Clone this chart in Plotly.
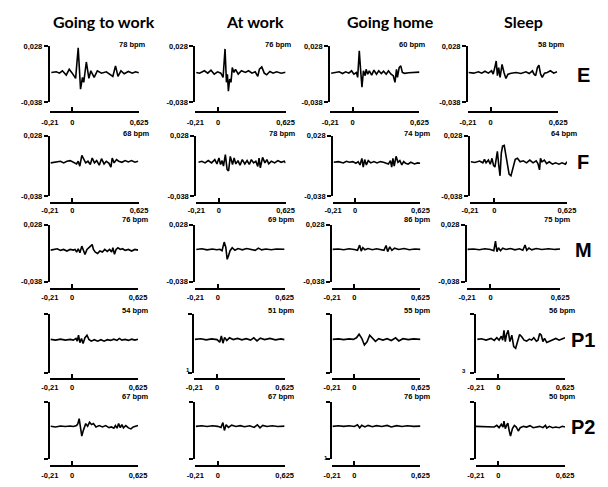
import plotly.graph_objects as go

W, H = 608, 487

CONDITIONS = ["Going to work", "At work", "Going home", "Sleep"]
SUBJECTS = ["E", "F", "M", "P1", "P2"]

# heart rate per subject, one value per condition
BPM_E = [78, 76, 60, 58]
BPM_F = [68, 78, 74, 64]
BPM_M = [76, 69, 86, 75]
BPM_P1 = [54, 51, 55, 56]
BPM_P2 = [67, 67, 76, 50]

X_TICKS = [-0.21, 0, 0.625]
X_TICK_TEXT = ["-0,21", "0", "0,625"]
Y_TICKS = [-0.038, 0.028]
Y_TICK_TEXT = ["-0,038", "0,028"]

# averaged waveforms: time in ms, amplitude in thousandths of the axis unit
E_GTW_MS = [-195, -149, -119, -92, -56, -28, 0, 32, 56, 78, 96, 108, 132, 156, 174, 205, 235, 274, 319, 356, 380, 405, 428, 456, 486, 525, 562, 592, 622]
E_GTW_AMP = [-3.0, -2.2, -3.8, -1.0, -6.1, 0.8, -3.8, -10.0, 26.0, -22.7, -8.8, -14.6, 9.4, -10.0, -1.0, -8.8, -1.0, -3.8, -2.2, -5.0, -7.6, 4.8, -7.6, -1.0, -4.5, -1.8, -3.8, -2.2, -3.3]
E_AW_MS = [-201, -171, -126, -95, -65, -35, -4, 26, 47, 65, 78, 87, 96, 108, 120, 132, 147, 162, 187, 217, 253, 283, 314, 344, 368, 383, 405, 428, 450, 480, 510, 541, 586, 625]
E_AW_AMP = [-3.0, -3.8, -1.0, -3.8, -0.3, -5.0, -2.2, -3.8, -8.8, 24.8, -14.6, -5.0, -25.0, -10.8, -14.6, 2.8, -3.0, 0.8, -5.0, -1.0, -3.0, -1.0, -3.8, -2.2, -7.6, 0.8, 3.6, -3.8, -5.7, -1.8, -3.8, -2.2, -3.8, -2.7]
E_GH_MS = [-201, -156, -126, -95, -65, -35, -10, 11, 35, 47, 62, 74, 87, 101, 117, 126, 141, 156, 178, 199, 223, 244, 268, 289, 314, 335, 359, 380, 396, 410, 419, 435, 450, 465, 486, 525, 571, 625]
E_GH_AMP = [-3.8, -3.0, -2.2, -4.2, -2.2, -3.8, -1.0, -5.0, -3.0, -8.8, 22.5, 0.8, -20.4, -1.0, -6.8, 0.8, -5.0, -1.0, -6.1, -0.3, -5.0, -1.0, -4.2, -1.5, -5.0, -1.0, -5.0, -6.8, -14.6, 0.8, -8.8, 2.8, 4.8, -3.0, -4.0, -3.4, -3.0, -2.6]
E_SL_MS = [-204, -158, -113, -83, -53, -22, 8, 23, 38, 51, 62, 74, 87, 105, 123, 141, 160, 190, 235, 280, 326, 356, 386, 401, 416, 432, 446, 462, 477, 498, 523, 553, 583, 613]
E_SL_AMP = [-3.0, -3.8, -2.2, -3.8, -1.5, -3.8, -1.0, -5.0, 2.8, 10.6, -6.8, 2.8, -8.8, 6.6, -3.0, -10.0, -5.0, -3.8, -3.0, -4.2, -2.2, -4.2, -1.0, -5.0, -6.8, 2.8, 5.5, -5.0, -8.8, -3.8, -3.0, -1.0, -3.8, -2.2]

F_GTW_MS = [-201, -156, -110, -80, -49, -19, 11, 41, 56, 71, 90, 108, 126, 147, 169, 187, 208, 229, 253, 274, 298, 319, 344, 362, 374, 392, 414, 435, 465, 495, 525, 555, 586, 616]
F_GTW_AMP = [-1.7, -1.0, 0.1, -1.7, 0.1, 0.8, -1.0, -2.8, 0.1, -5.2, 6.4, 1.9, -1.7, 0.1, -3.4, 3.6, -1.7, 0.8, -4.2, 2.9, -2.8, 0.1, -2.1, -6.3, 3.6, -1.7, 1.9, 0.1, -1.0, 0.8, -0.7, 0.8, -1.0, 0.1]
F_AW_MS = [-189, -158, -128, -98, -67, -37, -17, 2, 17, 32, 44, 62, 78, 92, 108, 129, 144, 160, 180, 199, 220, 244, 265, 286, 305, 326, 347, 365, 377, 389, 410, 432, 450, 468, 492, 523, 553, 583, 613, 625]
F_AW_AMP = [-1.0, 0.1, -1.7, 0.8, -1.7, 1.9, -2.8, 3.6, -3.4, 0.8, -5.2, 7.2, -8.7, -10.5, 5.4, -3.4, 3.6, -2.8, 0.8, -4.2, 1.9, -2.8, 0.8, -3.4, 1.9, -1.7, 0.1, -5.6, 3.6, -7.0, 4.3, -1.7, 1.9, -2.8, 0.1, -1.7, 0.8, -1.0, 0.1, -1.7]
F_GH_MS = [-204, -158, -113, -83, -53, -22, 8, 29, 47, 65, 78, 92, 108, 126, 150, 180, 210, 241, 271, 296, 319, 338, 350, 362, 374, 392, 410, 428, 447, 465, 483, 507, 532, 568, 598, 622]
F_GH_AMP = [-1.0, -0.3, -1.7, 0.1, -1.0, -0.3, -2.1, -0.3, -3.9, 3.2, -6.3, 1.9, -3.9, 0.8, -1.7, -0.3, -1.7, -0.3, -1.0, -2.1, -2.8, 0.8, -6.3, 3.2, -5.2, 5.4, -1.0, 0.8, -3.9, -0.3, -2.1, -3.1, -1.0, -2.8, -1.7, -2.1]
F_SL_MS = [-202, -168, -127, -99, -85, -71, -51, -35, -20, -7, 5, 15, 26, 38, 49, 60, 71, 85, 96, 110, 127, 143, 160, 180, 199, 222, 249, 277, 305, 333, 360, 375, 389, 397, 410, 430, 450, 472, 500, 527, 556, 583, 611, 625]
F_SL_AMP = [-0.5, -1.3, 0.3, -1.6, 2.1, -1.6, 1.4, -3.1, 3.3, -4.3, -6.2, 2.1, 10.9, -4.3, -15.7, 9.0, 16.6, 17.4, 9.0, -2.4, -13.8, -15.7, -6.2, 2.1, 3.3, -0.5, 0.6, -1.6, 1.4, -1.6, 0.6, -2.4, -9.3, 3.3, -0.5, 1.4, -2.4, -0.5, -3.1, -1.6, -3.1, -1.6, -3.1, -0.5]

M_GTW_MS = [-201, -170, -139, -109, -79, -48, -17, 13, 29, 44, 59, 75, 93, 111, 123, 142, 160, 176, 191, 203, 221, 243, 264, 288, 310, 334, 356, 375, 387, 402, 417, 435, 457, 478, 503, 534, 564, 595, 625]
M_GTW_AMP = [-1.3, -0.5, 0.3, -1.6, -0.5, -2.4, -0.5, -1.3, -0.5, -3.6, 0.3, -4.3, 3.3, -2.4, -6.2, -0.5, 2.1, 3.3, 5.2, -0.5, -3.6, -5.1, -2.4, -3.6, -0.5, -2.8, -0.5, -3.6, 1.4, -6.2, -0.5, 1.4, -0.5, 0.3, -1.6, -0.5, -2.4, -0.5, -1.3]
M_AW_MS = [-201, -150, -100, -50, -10, 20, 40, 60, 75, 88, 100, 115, 135, 160, 190, 230, 270, 310, 350, 380, 410, 450, 500, 550, 600, 625]
M_AW_AMP = [-0.5, 0.3, -1.0, 0.0, -0.8, -0.3, -2.0, 8.0, 2.0, -12.0, -8.0, -2.0, 1.5, -1.5, 0.5, -1.0, 0.5, -0.5, -1.5, 1.0, -1.0, 0.0, -0.8, 0.0, -0.5, -0.3]
M_GH_MS = [-205, -150, -100, -50, 0, 30, 50, 65, 80, 100, 130, 170, 210, 250, 280, 300, 315, 335, 355, 380, 420, 470, 520, 570, 625]
M_GH_AMP = [-0.5, 0.0, -0.8, 0.2, -0.5, -1.5, 4.5, -2.5, 1.5, -1.0, 0.5, -0.8, 0.3, -0.5, -1.5, 4.0, -3.0, 2.5, -1.5, 1.0, -0.5, 0.5, -0.8, 0.0, -0.5]
M_SL_MS = [-205, -150, -100, -50, 0, 30, 45, 58, 72, 90, 110, 140, 180, 220, 260, 290, 310, 325, 345, 370, 410, 460, 520, 580, 625]
M_SL_AMP = [-0.5, 0.0, -0.8, 0.3, -0.5, -2.0, 9.0, -3.0, 1.5, -2.0, 1.0, -0.5, 0.5, -1.0, 0.2, -1.5, 4.5, -1.5, 1.0, -1.0, 0.5, -0.5, 0.3, -0.5, 0.0]

P1_GTW_MS = [-201, -155, -109, -63, -17, 13, 38, 50, 62, 75, 90, 105, 123, 142, 160, 182, 212, 243, 274, 304, 334, 365, 396, 426, 448, 472, 503, 534, 564, 595, 625]
P1_GTW_AMP = [-0.3, -1.1, 0.0, -1.1, -0.3, -1.1, 0.8, -2.2, 4.4, -3.9, 0.8, -5.0, 1.6, 4.4, -0.3, -2.2, -0.6, -2.2, -0.6, -2.2, -0.6, -1.4, 0.0, -1.4, 0.8, -1.1, -0.3, -1.4, 0.0, -1.1, 0.0]
P1_AW_MS = [-205, -150, -100, -50, 0, 25, 40, 55, 70, 90, 115, 150, 190, 230, 270, 310, 340, 370, 400, 440, 490, 540, 590, 625]
P1_AW_AMP = [-0.3, 0.5, -0.8, 0.3, -0.5, -3.5, 3.5, -4.5, 2.0, -1.5, 1.5, -0.5, 0.8, -0.8, 0.5, -1.0, 1.5, -2.0, 1.0, -0.5, 0.8, -0.8, 0.3, -0.5]
P1_GH_MS = [-205, -150, -100, -50, -10, 20, 45, 70, 95, 120, 145, 170, 200, 230, 270, 310, 350, 390, 420, 460, 510, 560, 625]
P1_GH_AMP = [-0.3, 0.3, -0.5, 0.3, -0.3, 1.5, 5.5, 1.0, -6.5, -3.0, 4.5, 1.0, -2.5, 0.5, -1.0, 0.5, -1.5, 1.5, -2.0, 0.5, -0.5, 0.3, -0.3]
P1_SL_MS = [-195, -158, -113, -67, -37, -13, 8, 29, 42, 54, 66, 78, 93, 109, 127, 145, 163, 181, 200, 220, 242, 266, 291, 312, 333, 357, 372, 388, 403, 418, 433, 454, 479, 509, 539, 570, 600, 624]
P1_SL_AMP = [-0.3, 0.5, -1.1, 0.8, -1.4, 1.6, -1.1, 3.3, -1.1, 9.9, -2.8, 5.2, 9.9, -2.8, 4.4, -8.3, -10.2, -1.1, 5.2, 2.7, -1.1, -2.2, 0.0, -1.1, 1.6, -2.2, -1.1, 6.3, 4.4, -2.8, 0.8, -3.6, -2.2, -1.1, 0.8, -1.1, 0.8, 1.6]

P2_GTW_MS = [-201, -155, -109, -63, -17, 13, 44, 56, 68, 81, 93, 105, 117, 130, 148, 166, 185, 203, 227, 258, 288, 319, 350, 374, 396, 411, 426, 441, 457, 472, 487, 509, 534, 558, 579, 600, 625]
P2_GTW_AMP = [-0.2, -1.0, 0.1, -0.5, 0.1, -0.5, 0.6, 2.8, 8.4, -2.1, -11.4, -5.8, -0.2, 2.8, -0.2, 4.3, 1.7, 2.8, -1.0, 0.6, -1.0, 0.6, -1.7, -1.0, -2.4, 0.6, -2.4, 2.8, -1.7, 1.7, -2.1, 0.6, -2.1, -3.2, -1.0, -0.2, 0.6]
P2_AW_MS = [-205, -150, -100, -50, 0, 30, 48, 62, 78, 100, 130, 170, 210, 250, 300, 340, 370, 395, 420, 460, 510, 560, 625]
P2_AW_AMP = [-0.3, 0.3, -0.5, 0.3, -0.3, -1.5, 4.0, -5.0, 1.5, -1.5, 1.0, -0.5, 0.5, -0.8, 0.3, -1.5, 1.5, -2.0, 0.8, -0.5, 0.3, -0.5, 0.0]
P2_GH_MS = [-205, -150, -100, -50, 0, 30, 50, 70, 100, 130, 170, 210, 260, 310, 350, 400, 450, 500, 560, 625]
P2_GH_AMP = [-0.3, 0.3, -0.3, 0.3, -0.5, 1.5, -2.0, 1.0, -1.0, 0.8, -0.8, 0.5, -0.5, 0.8, -1.0, 0.5, -0.5, 0.3, -0.3, 0.0]
P2_SL_MS = [-210, -67, -37, -13, 8, 29, 45, 54, 66, 78, 90, 102, 115, 133, 151, 169, 188, 206, 236, 266, 297, 327, 357, 388, 418, 442, 454, 479, 509, 539, 570, 600, 624]
P2_SL_AMP = [-0.3, -0.3, -1.1, 0.8, -1.8, 2.0, -1.1, 5.6, -2.9, 0.8, 3.4, -4.8, -11.5, -2.9, 0.8, -1.1, -5.6, -1.8, -0.3, -1.1, 0.5, -1.8, -1.1, -0.3, -1.8, 0.8, -2.2, -0.3, -1.8, -1.1, -1.8, -0.3, -1.1]

WAVES = [
    [(E_GTW_MS, E_GTW_AMP), (E_AW_MS, E_AW_AMP), (E_GH_MS, E_GH_AMP), (E_SL_MS, E_SL_AMP)],
    [(F_GTW_MS, F_GTW_AMP), (F_AW_MS, F_AW_AMP), (F_GH_MS, F_GH_AMP), (F_SL_MS, F_SL_AMP)],
    [(M_GTW_MS, M_GTW_AMP), (M_AW_MS, M_AW_AMP), (M_GH_MS, M_GH_AMP), (M_SL_MS, M_SL_AMP)],
    [(P1_GTW_MS, P1_GTW_AMP), (P1_AW_MS, P1_AW_AMP), (P1_GH_MS, P1_GH_AMP), (P1_SL_MS, P1_SL_AMP)],
    [(P2_GTW_MS, P2_GTW_AMP), (P2_AW_MS, P2_AW_AMP), (P2_GH_MS, P2_GH_AMP), (P2_SL_MS, P2_SL_AMP)],
]
BPMS = [BPM_E, BPM_F, BPM_M, BPM_P1, BPM_P2]

# panel placement in pixels: (left, right) per row and column;
# (top, bottom, x-axis line, bpm label, tick-label standoff) per row
PANEL_X = [
    [(42, 134), (192, 285), (331, 423), (473, 566)],
    [(42, 134), (193, 285), (334, 424), (475, 575)],
    [(42, 133), (192, 284), (333, 424), (472, 568)],
    [(42, 133), (191, 284), (333, 424), (481, 573)],
    [(42, 133), (192, 284), (333, 424), (481, 573)],
]
PANEL_Y = [(43, 100, 110, 41, 3), (134, 196, 203, 132, 0), (225, 283, 290, 220, 1),
           (316, 376, 382, 312, 1), (405, 464, 471, 400, 2)]
TITLE_X = [98, 254, 393, 530]
LABEL_Y = [72, 161, 251, 342, 431]

# leftover fragments of tick labels printed beside some P panels: (x, y, text)
STRAY_MARKS = [(184, 373, "1"), (327, 463, "1"), (469, 374, "3")]


def px(x):
    return x / W


def py(y):
    return 1 - y / H


TICK_FONT = dict(family="Liberation Sans, Arial", size=7.5, color="#000000", weight="bold")

fig = go.Figure()
layout = {}
annotations = []

for r, subject in enumerate(SUBJECTS):
    top, bottom, axis_y, bpm_y, standoff = PANEL_Y[r]
    for c, cond in enumerate(CONDITIONS):
        left, right = PANEL_X[r][c]
        k = r * 4 + c + 1
        xa = "x" if k == 1 else f"x{k}"
        ya = "y" if k == 1 else f"y{k}"
        ms, amp = WAVES[r][c]
        fig.add_trace(go.Scatter(
            x=[t / 1000 for t in ms], y=[a / 1000 for a in amp],
            mode="lines", line=dict(color="black", width=1.6),
            xaxis=xa, yaxis=ya, showlegend=False, hoverinfo="skip",
        ))
        layout["xaxis" if k == 1 else f"xaxis{k}"] = dict(
            domain=[px(left), px(right)], range=[-0.21, 0.625],
            anchor="free", position=py(axis_y),
            showline=True, linewidth=2, linecolor="black",
            ticks="inside", ticklen=4, tickwidth=2, tickcolor="black",
            tickvals=X_TICKS, ticktext=X_TICK_TEXT, tickfont=TICK_FONT,
            ticklabelstandoff=standoff,
            showgrid=False, zeroline=False, fixedrange=True,
        )
        layout["yaxis" if k == 1 else f"yaxis{k}"] = dict(
            domain=[py(bottom), py(top)], range=[-0.038, 0.028],
            anchor=xa, showline=True, linewidth=2, linecolor="black",
            ticks="outside", ticklen=4, tickwidth=2, tickcolor="black",
            tickvals=Y_TICKS, ticktext=Y_TICK_TEXT if r < 3 else ["", ""],
            tickfont=TICK_FONT, showgrid=False, zeroline=False, fixedrange=True,
        )
        bpm_right = right + (9 if r == 0 else 13)
        annotations.append(dict(
            x=px(bpm_right), y=py(bpm_y), xref="paper", yref="paper",
            xanchor="right", yanchor="middle", showarrow=False,
            text=f"{BPMS[r][c]} bpm", font=TICK_FONT,
        ))
    annotations.append(dict(
        x=px(592), y=py(LABEL_Y[r]), xref="paper", yref="paper",
        xanchor="center", yanchor="middle", showarrow=False, text=subject,
        font=dict(family="Liberation Sans, Arial", size=20, color="black", weight="bold"),
    ))

for c, cond in enumerate(CONDITIONS):
    annotations.append(dict(
        x=px(TITLE_X[c]), y=py(18), xref="paper", yref="paper",
        xanchor="center", yanchor="middle", showarrow=False, text=cond,
        font=dict(family="Lato, Open Sans", size=16, color="black", weight="bold"),
    ))

for sx, sy, s in STRAY_MARKS:
    annotations.append(dict(
        x=px(sx), y=py(sy), xref="paper", yref="paper",
        xanchor="center", yanchor="middle", showarrow=False, text=s,
        font=dict(family="Liberation Sans, Arial", size=6, color="#000000", weight="bold"),
    ))

fig.update_layout(
    width=W, height=H, margin=dict(l=0, r=0, t=0, b=0),
    paper_bgcolor="white", plot_bgcolor="white",
    annotations=annotations, **layout,
)

fig.write_html("out.html", config={"displayModeBar": False})
